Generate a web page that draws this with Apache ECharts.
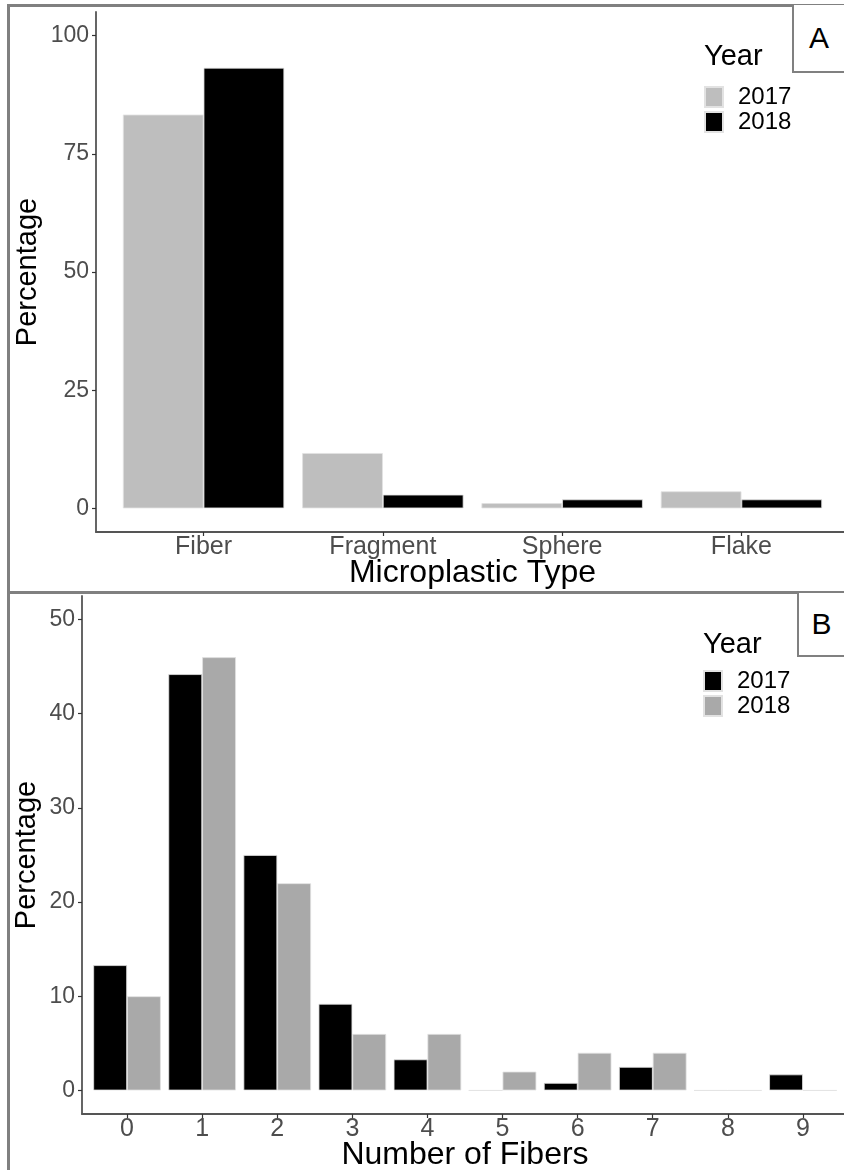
<!DOCTYPE html>
<html>
<head>
<meta charset="utf-8">
<script src="https://cdn.jsdelivr.net/npm/echarts@6/dist/echarts.min.js"></script>
<style>
  html, body { margin: 0; padding: 0; background: #fff; }
  #wrap { position: relative; width: 844px; height: 1170px; overflow: hidden; background: #fff; }
  #chartA { position: absolute; left: 0; top: 0; width: 844px; height: 592px; }
  #chartB { position: absolute; left: 0; top: 592px; width: 844px; height: 578px; }
  .line { position: absolute; background: #808080; }
  .tag { position: absolute; background: #fff; border-left: 2.5px solid #808080; border-bottom: 2.5px solid #808080;
         font-family: 'Liberation Sans', Arial, sans-serif; font-size: 30px; color: #000;
         display: flex; align-items: center; justify-content: center; box-sizing: border-box; }
</style>
</head>
<body>
<div id="wrap">
  <div id="chartA"></div>
  <div id="chartB"></div>
  <div class="line" style="left:7px; top:4px; width:837px; height:2.5px;"></div>
  <div class="line" style="left:7px; top:4px; width:2.5px; height:1166px;"></div>
  <div class="line" style="left:7px; top:591px; width:837px; height:2.5px;"></div>
  <div class="tag" style="left:792px; top:5px; width:52px; height:68px;">A</div>
  <div class="tag" style="left:797px; top:593px; width:47px; height:64px;">B</div>
</div>
<script>
// ---- Panel A data ----
const typeCategories = ['Fiber', 'Fragment', 'Sphere', 'Flake'];
const typeYears = ['2017', '2018'];
const type2017 = [83.3, 11.7, 1.1, 3.6];
const type2018 = [93.2, 2.9, 1.9, 1.9];
const typeYTicks = [0, 25, 50, 75, 100];

// ---- Panel B data ----
const fiberCategories = ['0', '1', '2', '3', '4', '5', '6', '7', '8', '9'];
const fiberYears = ['2017', '2018'];
const fiber2017 = [13.3, 44.2, 25.0, 9.2, 3.3, 0, 0.8, 2.5, 0, 1.7];
const fiber2018 = [10.0, 46.0, 22.0, 6.0, 6.0, 2.0, 4.0, 4.0, 0, 0];
const fiberYTicks = [0, 10, 20, 30, 40, 50];

const FONT = "'Liberation Sans', Arial, sans-serif";
const tickGray = '#4d4d4d';
const axisGray = '#555555';

function toPairs(arr) { return arr.map((v, i) => [i, v]); }

function makeOption(cfg) {
  const idx = cfg.categories.map((c, i) => i);
  return {
    animation: false,
    textStyle: { fontFamily: FONT },
    title: {
      text: 'Year', left: cfg.legendLeft, top: cfg.titleTop, padding: 0,
      textStyle: { fontFamily: FONT, fontSize: 29, fontWeight: 'normal', color: '#000' }
    },
    legend: {
      orient: 'vertical', left: cfg.legendLeft, top: cfg.legendTop, padding: 0,
      icon: 'rect', itemWidth: 18, itemHeight: 20, itemGap: 1,
      data: cfg.years,
      textStyle: { fontFamily: FONT, fontSize: 24, color: '#000', padding: [0, 0, 0, 10] },
      selectedMode: false
    },
    grid: {
      left: cfg.gridLeft, top: cfg.gridTop, right: cfg.gridRight, height: cfg.gridHeight,
      containLabel: false, outerBoundsMode: 'none'
    },
    xAxis: {
      type: 'value', min: -0.6, max: cfg.categories.length - 0.4,
      name: cfg.xName, nameLocation: 'middle', nameGap: cfg.xNameGap, nameMoveOverlap: false,
      nameTextStyle: { fontFamily: FONT, fontSize: 32, color: '#000' },
      axisLine: { show: true, onZero: false, lineStyle: { color: axisGray, width: 1.8 } },
      axisTick: { show: true, length: 4, customValues: idx, lineStyle: { color: '#333', width: 1.2 } },
      axisLabel: {
        customValues: idx, margin: 3, fontFamily: FONT, fontSize: 25, color: tickGray,
        formatter: v => cfg.categories[Math.round(v)]
      },
      splitLine: { show: false }
    },
    yAxis: {
      type: 'value', min: cfg.yMin, max: cfg.yMax,
      name: 'Percentage', nameLocation: 'middle', nameGap: cfg.yNameGap, nameMoveOverlap: false,
      nameTextStyle: { fontFamily: FONT, fontSize: 29, color: '#000' },
      axisLine: { show: true, onZero: false, lineStyle: { color: axisGray, width: 1.8 } },
      axisTick: { show: true, length: 4, customValues: cfg.yTicks, lineStyle: { color: '#333', width: 1.2 } },
      axisLabel: { customValues: cfg.yTicks, margin: 7, fontFamily: FONT, fontSize: 23, color: tickGray },
      splitLine: { show: false }
    },
    series: cfg.years.map((y, k) => ({
      name: y, type: 'bar',
      data: toPairs(cfg.values[k]),
      barWidth: '45%', barGap: '0%',
      itemStyle: { color: cfg.colors[k], borderColor: '#e2e2e2', borderWidth: 0.8 }
    }))
  };
}

const chartA = echarts.init(document.getElementById('chartA'), null, { renderer: 'canvas' });
chartA.setOption(makeOption({
  categories: typeCategories, years: typeYears, values: [type2017, type2018],
  colors: ['#bebebe', '#000000'], yTicks: typeYTicks, yMin: -5, yMax: 105,
  xName: 'Microplastic Type', xNameGap: 25, yNameGap: 54,
  gridLeft: 96, gridTop: 12, gridRight: -5, gridHeight: 520,
  legendLeft: 704, titleTop: 42, legendTop: 85
}));

const chartB = echarts.init(document.getElementById('chartB'), null, { renderer: 'canvas' });
chartB.setOption(makeOption({
  categories: fiberCategories, years: fiberYears, values: [fiber2017, fiber2018],
  colors: ['#000000', '#a9a9a9'], yTicks: fiberYTicks, yMin: -2.5, yMax: 52.5,
  xName: 'Number of Fibers', xNameGap: 25, yNameGap: 41,
  gridLeft: 82, gridTop: 4, gridRight: -4, gridHeight: 518,
  legendLeft: 703, titleTop: 38, legendTop: 77
}));
</script>
</body>
</html>
